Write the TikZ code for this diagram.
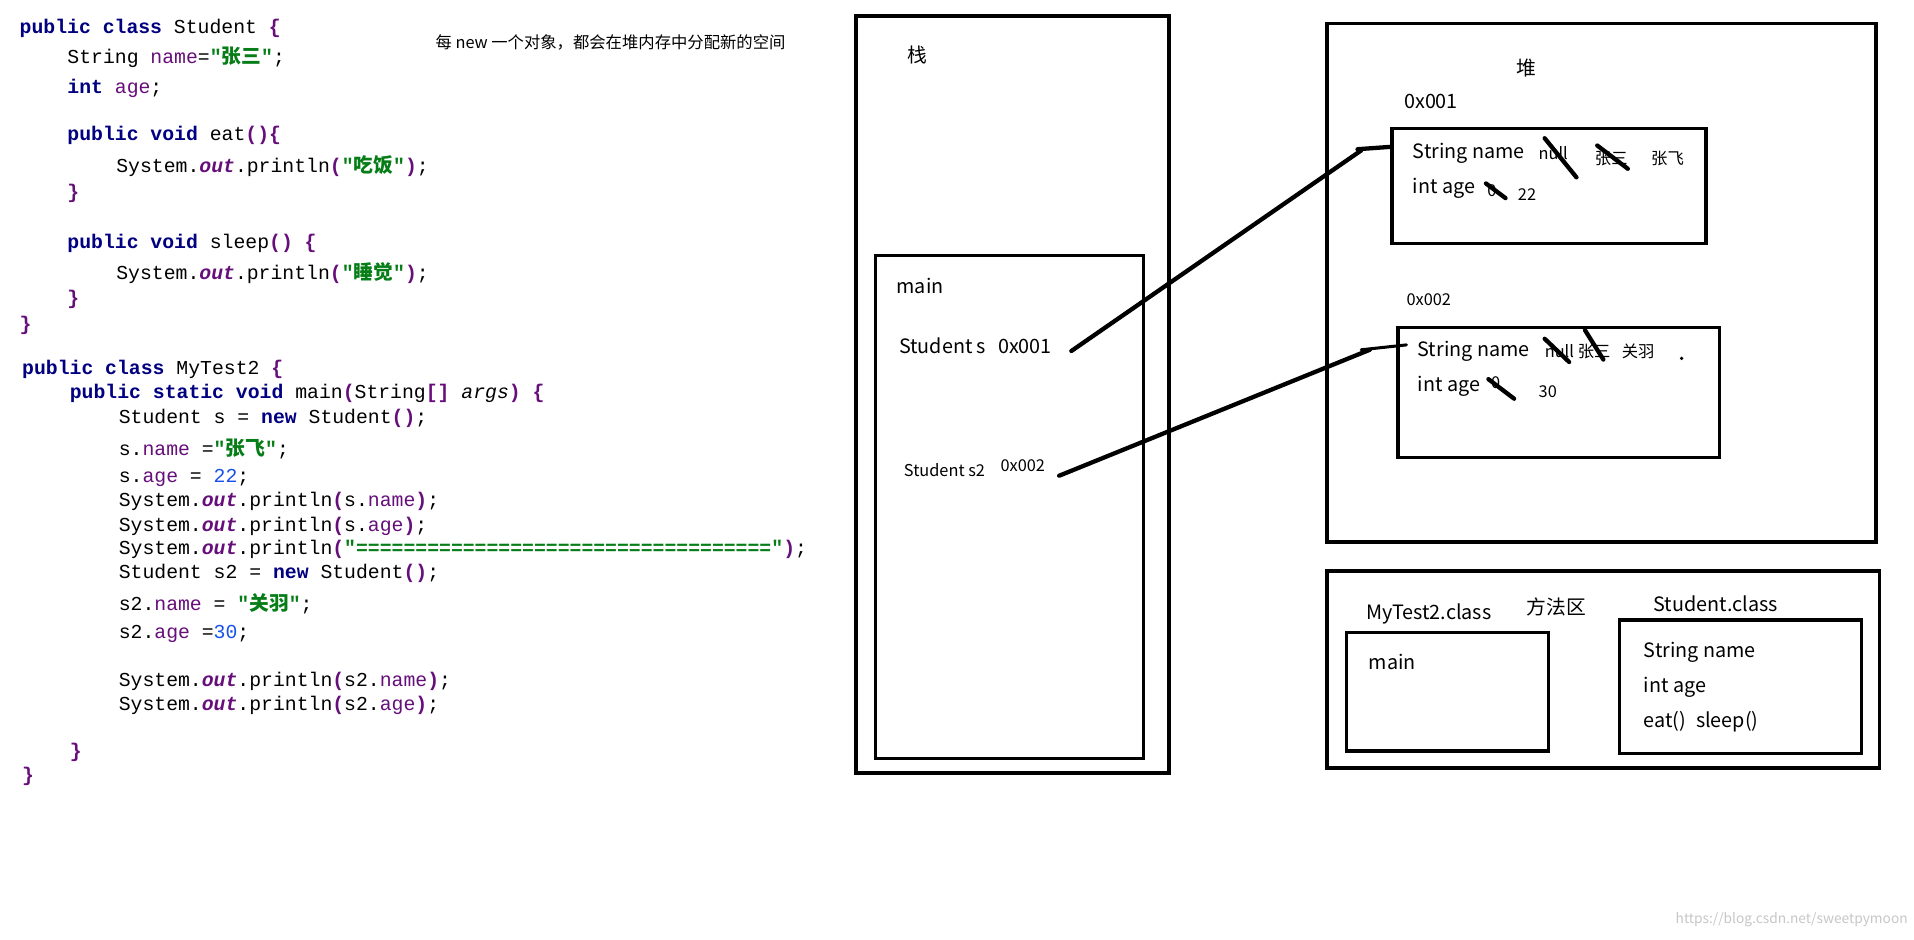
\documentclass[tikz,border=0pt]{standalone}
\usepackage{fontspec}
\setmainfont{Noto Sans CJK SC}
\setmonofont{Liberation Mono}
\newfontfamily\cjk{Noto Sans CJK SC}
\definecolor{kw}{RGB}{0,0,128}
\definecolor{fd}{RGB}{102,14,122}
\definecolor{st}{RGB}{6,125,23}
\definecolor{nm}{RGB}{23,80,235}
\newcommand{\jK}[1]{\textcolor{kw}{\bfseries #1}}
\newcommand{\jF}[1]{\textcolor{fd}{#1}}
\newcommand{\jFb}[1]{\textcolor{fd}{\bfseries #1}}
\newcommand{\jO}{\textcolor{fd}{\itshape\bfseries out}}
\newcommand{\jS}[1]{\textcolor{st}{\bfseries #1}}
\newcommand{\jC}[1]{{\cjk\bfseries #1}}
\newcommand{\jN}[1]{\textcolor{nm}{#1}}
\begin{document}
\begin{tikzpicture}[x=0.5mm,y=-0.5mm,
 code/.style={anchor=west,inner sep=0,font=\ttfamily\fontsize{23}{23}\selectfont},
 lbl/.style={anchor=west,inner sep=0,font=\fontsize{23}{23}\selectfont},
 sml/.style={anchor=west,inner sep=0,font=\fontsize{19}{19}\selectfont},
 box/.style={draw,line width=4pt},
 ln/.style={line width=5pt,line cap=round}]
\path[use as bounding box] (0,0) rectangle (1565,768);
\node[code] (c1) at (16,23) {\jK{public class} Student \jFb{\{}};
\node[code] (c2) at (55,47) {String \jF{name}=\jS{"\jC{张三}"};};
\node[code] (c3) at (55,72) {\jK{int} \jF{age};};
\node[code] (c4) at (55,111) {\jK{public void} eat\jFb{()\{}};
\node[code] (c5) at (95,136) {System.\jO.println\jFb{(}\jS{"\jC{吃饭}"}\jFb{)};};
\node[code] (c6) at (55,158) {\jFb{\}}};
\node[code] (c7) at (55,199) {\jK{public void} sleep\jFb{() \{}};
\node[code] (c8) at (95,223) {System.\jO.println\jFb{(}\jS{"\jC{睡觉}"}\jFb{)};};
\node[code] (c9) at (55,245) {\jFb{\}}};
\node[code] (c10) at (16,266) {\jFb{\}}};
\node[code] (c11) at (18,302) {\jK{public class} MyTest2 \jFb{\{}};
\node[code] (c12) at (57,322) {\jK{public static void} main\jFb{(}String\jFb{[]} \textit{args}\jFb{) \{}};
\node[code] (c13) at (97,342) {Student s = \jK{new} Student\jFb{()};};
\node[code] (c14) at (97,367) {s.\jF{name} =\jS{"\jC{张飞}"};};
\node[code] (c15) at (97,391) {s.\jF{age} = \jN{22};};
\node[code] (c16) at (97,410) {System.\jO.println\jFb{(}s.\jF{name}\jFb{)};};
\node[code] (c17) at (97,430) {System.\jO.println\jFb{(}s.\jF{age}\jFb{)};};
\node[code] (c18) at (97,449) {System.\jO.println\jFb{(}\jS{"==================================="}\jFb{)};};
\node[code] (c19) at (97,469) {Student s2 = \jK{new} Student\jFb{()};};
\node[code] (c20) at (97,494) {s2.\jF{name} = \jS{"\jC{关羽}"};};
\node[code] (c21) at (97,518) {s2.\jF{age} =\jN{30};};
\node[code] (c22) at (97,557) {System.\jO.println\jFb{(}s2.\jF{name}\jFb{)};};
\node[code] (c23) at (97,577) {System.\jO.println\jFb{(}s2.\jF{age}\jFb{)};};
\node[code] (c24) at (57,615) {\jFb{\}}};
\node[code] (c25) at (18,635) {\jFb{\}}};
\node[sml] (note) at (356,35) {每 new 一个对象，都会在堆内存中分配新的空间};
% stack
\draw[box] (700,13) rectangle (956,632);
\draw[box] (716,209) rectangle (935,620);
\node[lbl] (zhan) at (742,45) {栈};
\node[lbl] (smain) at (733,234) {main};
\node[lbl] (ss) at (735,283) {Student s\hspace{0.6em}0x001};
\node[sml] (ss2) at (739,384) {Student s2};
\node[sml] (a2) at (818,381) {0x002};
% heap
\draw[box] (1085,19) rectangle (1534,443);
\node[lbl] (dui) at (1240,56) {堆};
\node[lbl] (h1) at (1148,83) {0x001};
\draw[box] (1138,105) rectangle (1395,199);
\node[lbl] (sn1) at (1155,125) {String name};
\node[sml] (n1) at (1258,125) {null};
\node[sml] (z1) at (1304,130) {张三};
\node[sml] (z2) at (1350,130) {张飞};
\node[lbl] (ia1) at (1155,154) {int age};
\node[sml] (o1) at (1216,156) {0};
\node[sml] (v1) at (1241,159) {22};
\draw[ln] (1263,113) -- (1289,145);
\draw[ln] (1306,119) -- (1331,138);
\draw[ln] (1215,150) -- (1231,162);
\node[sml] (h2) at (1150,245) {0x002};
\draw[box] (1143,268) rectangle (1406,374);
\node[lbl] (sn2) at (1159,287) {String name};
\node[sml] (n2) at (1263,287) {null};
\node[sml] (z3) at (1290,287) {张三};
\node[sml] (g) at (1326,287) {关羽};
\fill (1375,293) circle (1.5);
\node[lbl] (ia2) at (1159,316) {int age};
\node[sml] (o2) at (1219,313) {0};
\node[sml] (v2) at (1258,320) {30};
\draw[ln] (1263,277) -- (1283,296);
\draw[ln] (1296,270) -- (1311,294);
\draw[ln] (1217,310) -- (1238,326);
% arrows
\coordinate (p1) at (876,287); \coordinate (q1) at (1113,123); \coordinate (r1) at (1138,120);
\coordinate (p2) at (866,389); \coordinate (q2) at (1120,286); \coordinate (r2) at (1150,282);
\coordinate (s1) at (1110,122); \coordinate (s2) at (1113,286);
\draw[ln] (p1) -- (q1);
\draw[ln] (s1) -- (r1);
\draw[ln] (p2) -- (q2);
\draw[line width=3.5pt,line cap=round] (s2) -- (r2);
% method area
\draw[box] (1085,467) rectangle (1537,628);
\node[lbl] (mt) at (1117,502) {MyTest2.class};
\node[lbl] (ff) at (1248,496) {方法区};
\node[lbl] (sc) at (1352,494) {Student.class};
\draw[box] (1101,517) rectangle (1266,614);
\node[lbl] (mm) at (1119,541) {main};
\draw[box] (1324,507) rectangle (1522,616);
\node[lbl] (msn) at (1344,533) {String name};
\node[lbl] (mia) at (1344,562) {int age};
\node[lbl] (mes) at (1344,590) {eat()\hspace{0.5em}sleep()};
\node[anchor=east,inner sep=0,font=\fontsize{16}{16}\selectfont,text=gray!45] (wm) at (1560,752) {https://blog.csdn.net/sweetpymoon};
\end{tikzpicture}
\end{document}
